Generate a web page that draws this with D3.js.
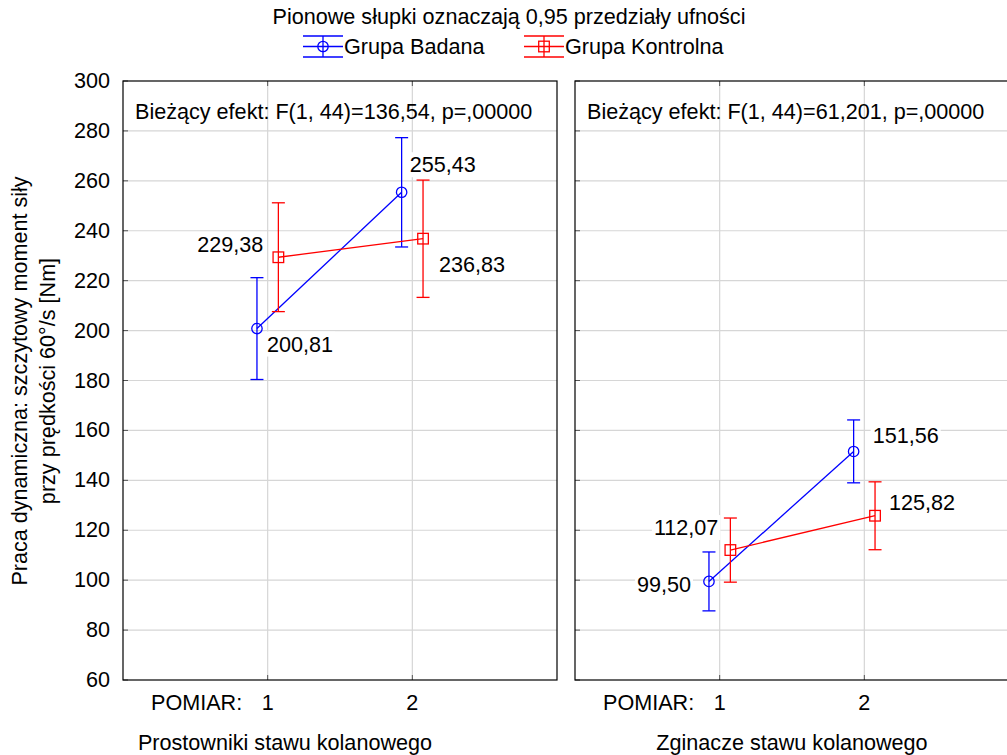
<!DOCTYPE html>
<html>
<head>
<meta charset="utf-8">
<script src="https://cdn.jsdelivr.net/npm/d3@7"></script>
<style>
  html, body { margin: 0; padding: 0; background: #fff; }
  svg { display: block; font-family: "Liberation Sans", Arial, sans-serif; }
</style>
</head>
<body>
<svg id="chart" width="1007" height="755"></svg>
<script>
// ---- data ----
const panelTitles = ["Prostowniki stawu kolanowego", "Zginacze stawu kolanowego"];
const effectTexts = [
  "Bieżący efekt: F(1, 44)=136,54, p=,00000",
  "Bieżący efekt: F(1, 44)=61,201, p=,00000"
];
const measurements = [1, 2];
const groupNames = ["Grupa Badana", "Grupa Kontrolna"];
const yTicks = [60, 80, 100, 120, 140, 160, 180, 200, 220, 240, 260, 280, 300];

// means and 0.95 confidence limits, [panel][measurement]
const badanaMean = [[200.81, 255.43], [99.50, 151.56]];
const badanaLow  = [[180.4, 233.5], [87.7, 139.0]];
const badanaHigh = [[221.2, 277.3], [111.3, 164.2]];
const kontrolnaMean = [[229.38, 236.83], [112.07, 125.82]];
const kontrolnaLow  = [[207.6, 213.3], [99.2, 112.2]];
const kontrolnaHigh = [[251.2, 260.3], [124.9, 139.4]];

// ---- layout ----
const svg = d3.select("#chart");
const plotTop = 81, plotBottom = 680, panelW = 434;
const panelLefts = [123, 575];
const colors = ["#0000ff", "#ff0000"];
const groupOffset = [-0.074, 0.074];
const fs = 21.6;

// value label placement per group / measurement, per panel
const labelPlace = [
  [ [{a: "start", dx: 10, dy: 16}, {a: "start", dx: 8, dy: -27}],
    [{a: "end", dx: -15, dy: -12}, {a: "start", dx: 16, dy: 26}] ],
  [ [{a: "end", dx: -18, dy: 4}, {a: "start", dx: 19, dy: -15}],
    [{a: "end", dx: -12, dy: -22}, {a: "start", dx: 14, dy: -13}] ]
];

const y = d3.scaleLinear().domain([60, 300]).range([plotBottom, plotTop]);
const fmt = v => d3.format(".2f")(v).replace(".", ",");

const groups = [
  {name: groupNames[0], mean: badanaMean, low: badanaLow, high: badanaHigh, shape: "circle"},
  {name: groupNames[1], mean: kontrolnaMean, low: kontrolnaLow, high: kontrolnaHigh, shape: "square"}
];

function marker(g, shape, cx, cy, color) {
  if (shape === "circle") {
    g.append("circle").attr("cx", cx).attr("cy", cy).attr("r", 5.2)
      .attr("fill", "none").attr("stroke", color).attr("stroke-width", 1.3);
  } else {
    g.append("rect").attr("x", cx - 5.3).attr("y", cy - 5.3)
      .attr("width", 10.6).attr("height", 10.6)
      .attr("fill", "none").attr("stroke", color).attr("stroke-width", 1.3);
  }
}

// ---- legend ----
svg.append("text").attr("x", 509).attr("y", 24).attr("text-anchor", "middle")
  .attr("font-size", fs).attr("fill", "#000")
  .text("Pionowe słupki oznaczają 0,95 przedziały ufności");

const legendX = [303, 524];
groups.forEach((grp, i) => {
  const g = svg.append("g");
  const x0 = legendX[i], x1 = x0 + 40, cx = (x0 + x1) / 2;
  [36, 46.5, 57].forEach(yy =>
    g.append("line").attr("x1", x0).attr("x2", x1).attr("y1", yy).attr("y2", yy)
      .attr("stroke", colors[i]).attr("stroke-width", 1.3));
  g.append("line").attr("x1", cx).attr("x2", cx).attr("y1", 36).attr("y2", 57)
    .attr("stroke", colors[i]).attr("stroke-width", 1.3);
  marker(g, grp.shape, cx, 46.5, colors[i]);
  g.append("text").attr("x", x1 + 1).attr("y", 54).attr("font-size", fs)
    .attr("fill", "#000").text(grp.name);
});

// ---- panels ----
panelTitles.forEach((title, p) => {
  const left = panelLefts[p];
  const x = d3.scaleLinear().domain([0, 3]).range([left, left + panelW]);
  const g = svg.append("g");

  // grid
  g.selectAll(".hg").data(yTicks.slice(1, -1)).enter().append("line")
    .attr("x1", left).attr("x2", left + panelW)
    .attr("y1", d => y(d)).attr("y2", d => y(d))
    .attr("stroke", "#d6d6d6").attr("stroke-width", 1.2);
  g.selectAll(".vg").data(measurements).enter().append("line")
    .attr("x1", d => x(d)).attr("x2", d => x(d))
    .attr("y1", plotTop).attr("y2", plotBottom)
    .attr("stroke", "#d6d6d6").attr("stroke-width", 1.2);

  // inner ticks
  g.selectAll(".yt").data(yTicks).enter().append("line")
    .attr("x1", left).attr("x2", left + 5)
    .attr("y1", d => y(d)).attr("y2", d => y(d))
    .attr("stroke", "#555").attr("stroke-width", 1);
  measurements.forEach(m => {
    g.append("line").attr("x1", x(m)).attr("x2", x(m)).attr("y1", plotBottom).attr("y2", plotBottom - 5)
      .attr("stroke", "#555");
    g.append("line").attr("x1", x(m)).attr("x2", x(m)).attr("y1", plotTop).attr("y2", plotTop + 5)
      .attr("stroke", "#555");
  });

  // frame
  g.append("rect").attr("x", left).attr("y", plotTop).attr("width", panelW).attr("height", plotBottom - plotTop)
    .attr("fill", "none").attr("stroke", "#000").attr("stroke-width", 1.2);

  // effect text
  g.append("text").attr("x", left + 12).attr("y", 119).attr("font-size", fs)
    .attr("fill", "#000").text(effectTexts[p]);

  // x tick labels
  g.append("text").attr("x", left + 28).attr("y", 710).attr("font-size", fs)
    .attr("fill", "#000").text("POMIAR:");
  g.selectAll(".xl").data(measurements).enter().append("text")
    .attr("x", d => x(d)).attr("y", 710).attr("text-anchor", "middle")
    .attr("font-size", fs).attr("fill", "#000").text(d => d);

  // series
  groups.forEach((grp, i) => {
    const pts = measurements.map((m, k) => ({
      x: x(m + groupOffset[i]), y: y(grp.mean[p][k]),
      lo: y(grp.low[p][k]), hi: y(grp.high[p][k])
    }));
    g.append("path").attr("d", d3.line().x(d => d.x).y(d => d.y)(pts))
      .attr("fill", "none").attr("stroke", colors[i]).attr("stroke-width", 1.3);
    pts.forEach(d => {
      g.append("line").attr("x1", d.x).attr("x2", d.x).attr("y1", d.lo).attr("y2", d.hi)
        .attr("stroke", colors[i]).attr("stroke-width", 1.3);
      [d.lo, d.hi].forEach(yy =>
        g.append("line").attr("x1", d.x - 6.5).attr("x2", d.x + 6.5).attr("y1", yy).attr("y2", yy)
          .attr("stroke", colors[i]).attr("stroke-width", 1.3));
      marker(g, grp.shape, d.x, d.y, colors[i]);
    });
  });

  // value labels
  groups.forEach((grp, i) => {
    measurements.forEach((m, k) => {
      const pl = labelPlace[p][i][k];
      const cx = x(m + groupOffset[i]), cy = y(grp.mean[p][k]);
      const lg = g.append("g");
      const t = lg.append("text").attr("x", cx + pl.dx).attr("y", cy + pl.dy + 7)
        .attr("text-anchor", pl.a).attr("font-size", fs).attr("fill", "#000")
        .text(fmt(grp.mean[p][k]));
      const bb = t.node().getBBox();
      lg.insert("rect", "text").attr("x", bb.x - 2).attr("y", bb.y)
        .attr("width", bb.width + 4).attr("height", bb.height).attr("fill", "#fff");
    });
  });
});

// y axis tick labels
svg.selectAll(".ytl").data(yTicks).enter().append("text")
  .attr("x", 110).attr("y", d => y(d) + 7).attr("text-anchor", "end")
  .attr("font-size", fs).attr("fill", "#000").text(d => d);

// y axis title
const yt = svg.append("text").attr("transform", "translate(0,381) rotate(-90)")
  .attr("text-anchor", "middle").attr("font-size", fs).attr("fill", "#000");
yt.append("tspan").attr("x", 0).attr("y", 27).text("Praca dynamiczna: szczytowy moment siły");
yt.append("tspan").attr("x", 0).attr("y", 55).text("przy prędkości 60°/s [Nm]");

// x axis titles
svg.append("text").attr("x", 285).attr("y", 749.5).attr("text-anchor", "middle")
  .attr("font-size", fs).attr("fill", "#000").text(panelTitles[0]);
svg.append("text").attr("x", 792).attr("y", 749.5).attr("text-anchor", "middle")
  .attr("font-size", fs).attr("fill", "#000").text(panelTitles[1]);
</script>
</body>
</html>
